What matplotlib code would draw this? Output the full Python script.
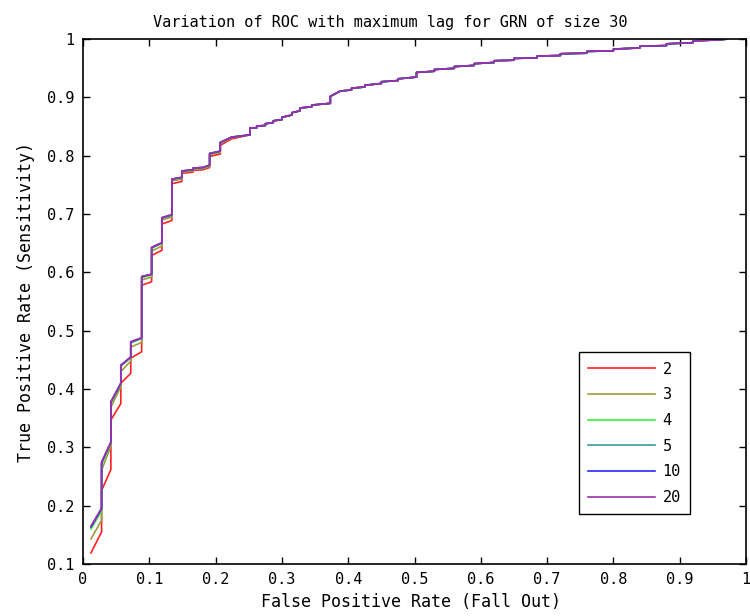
#!/usr/bin/env python
"""ROC curves for different maximum lags."""
import matplotlib
matplotlib.use('Agg')
import matplotlib.pyplot as plt

lags = ['2', '3', '4', '5', '10', '20']
colors = ['#ff2020', '#9c9c3a', '#3cf03c', '#3a9c9c', '#2828ff', '#a030a8']

# low-FPR part differs per lag
fpr_low = [0.012, 0.028, 0.028, 0.042, 0.042, 0.057, 0.057, 0.072, 0.072,
           0.0885, 0.0885, 0.1035, 0.1035, 0.119, 0.119, 0.134, 0.134,
           0.149, 0.149, 0.166, 0.166, 0.181, 0.191, 0.191, 0.207, 0.207,
           0.224]
tpr_low_2 = [0.119, 0.155, 0.226, 0.262, 0.347, 0.375, 0.410, 0.427, 0.453,
             0.464, 0.578, 0.584, 0.629, 0.638, 0.683, 0.689, 0.752, 0.756,
             0.770, 0.772, 0.775, 0.776, 0.780, 0.799, 0.803, 0.818, 0.829]
tpr_low_3 = [0.143, 0.175, 0.261, 0.302, 0.369, 0.404, 0.430, 0.448, 0.472,
             0.480, 0.587, 0.592, 0.637, 0.645, 0.690, 0.695, 0.757, 0.760,
             0.772, 0.774, 0.777, 0.778, 0.782, 0.802, 0.806, 0.821, 0.831]
tpr_low_4 = [0.160, 0.191, 0.271, 0.307, 0.376, 0.408, 0.439, 0.454, 0.479,
             0.487, 0.591, 0.596, 0.642, 0.650, 0.693, 0.698, 0.759, 0.762,
             0.773, 0.775, 0.778, 0.779, 0.783, 0.803, 0.807, 0.822, 0.832]
tpr_low_5 = [0.163, 0.194, 0.273, 0.308, 0.377, 0.409, 0.440, 0.454, 0.480,
             0.487, 0.592, 0.596, 0.642, 0.650, 0.693, 0.698, 0.760, 0.763,
             0.774, 0.776, 0.779, 0.780, 0.784, 0.804, 0.808, 0.823, 0.832]
tpr_low_10 = [0.164, 0.195, 0.274, 0.309, 0.378, 0.410, 0.441, 0.455, 0.481,
              0.488, 0.593, 0.597, 0.643, 0.651, 0.694, 0.699, 0.760, 0.763,
              0.774, 0.776, 0.779, 0.780, 0.784, 0.804, 0.808, 0.823, 0.832]
tpr_low_20 = [0.165, 0.196, 0.275, 0.309, 0.378, 0.410, 0.441, 0.455, 0.481,
              0.488, 0.593, 0.597, 0.643, 0.651, 0.694, 0.699, 0.760, 0.763,
              0.774, 0.776, 0.779, 0.780, 0.784, 0.804, 0.808, 0.823, 0.832]

# shared high-FPR part (small stairs)
fpr_high = [0.252, 0.252, 0.262, 0.262, 0.275, 0.275, 0.287, 0.287, 0.300,
            0.300, 0.315, 0.315, 0.327, 0.327, 0.345, 0.345, 0.373, 0.373,
            0.388, 0.405, 0.405, 0.425, 0.425, 0.450, 0.450, 0.475, 0.475,
            0.503, 0.503, 0.530, 0.530, 0.560, 0.560, 0.590, 0.590, 0.620,
            0.620, 0.650, 0.650, 0.685, 0.685, 0.720, 0.720, 0.760, 0.760,
            0.800, 0.800, 0.840, 0.840, 0.880, 0.880, 0.920, 0.920, 0.961,
            0.970]
tpr_high = [0.836, 0.848, 0.848, 0.851, 0.852, 0.855, 0.857, 0.860, 0.862,
            0.866, 0.870, 0.874, 0.877, 0.882, 0.884, 0.887, 0.890, 0.902,
            0.911, 0.913, 0.916, 0.918, 0.921, 0.924, 0.927, 0.929, 0.932,
            0.935, 0.943, 0.945, 0.948, 0.950, 0.953, 0.955, 0.958, 0.960,
            0.963, 0.964, 0.967, 0.968, 0.971, 0.972, 0.975, 0.976, 0.979,
            0.980, 0.983, 0.985, 0.988, 0.989, 0.992, 0.994, 0.997, 0.999,
            1.000]

tpr_low = [tpr_low_2, tpr_low_3, tpr_low_4, tpr_low_5, tpr_low_10, tpr_low_20]


def main():
    """Draw the figure and save it."""
    plt.rcParams['font.family'] = 'DejaVu Sans Mono'
    fig = plt.figure(figsize=(7.5, 6.16), dpi=100)
    ax = fig.add_axes([0.1107, 0.0844, 0.884, 0.852])

    for lag, color, tpr in zip(lags, colors, tpr_low):
        ax.plot(fpr_low + fpr_high, tpr + tpr_high, color=color, lw=1.2,
                label=lag)

    ax.set_xlim(0, 1)
    ax.set_ylim(0.1, 1)
    ax.set_xticks([i / 10 for i in range(11)])
    ax.set_yticks([i / 10 for i in range(1, 11)])
    ax.set_xticklabels(['0'] + ['0.%d' % i for i in range(1, 10)] + ['1'])
    ax.set_yticklabels(['0.%d' % i for i in range(1, 10)] + ['1'])
    ax.tick_params(direction='in', length=5, width=1, top=True, right=True,
                   labelsize=11, pad=6)
    for s in ax.spines.values():
        s.set_linewidth(1.2)

    ax.set_title('Variation of ROC with maximum lag for GRN of size 30',
                 fontsize=11, pad=9, x=0.463)
    ax.set_xlabel('False Positive Rate (Fall Out)', fontsize=12,
                  labelpad=4, x=0.494)
    ax.set_ylabel('True Positive Rate (Sensitivity)', fontsize=12,
                  labelpad=9)

    leg = ax.legend(loc='lower right', bbox_to_anchor=(0.9155, 0.095),
                    borderaxespad=0, fancybox=False, framealpha=1,
                    edgecolor='black', fontsize=11, handlelength=4.4,
                    handletextpad=0.5, labelspacing=0.7, borderpad=0.6)
    leg.get_frame().set_linewidth(1.0)

    fig.savefig('out.png', dpi=100)


if __name__ == '__main__':
    main()
